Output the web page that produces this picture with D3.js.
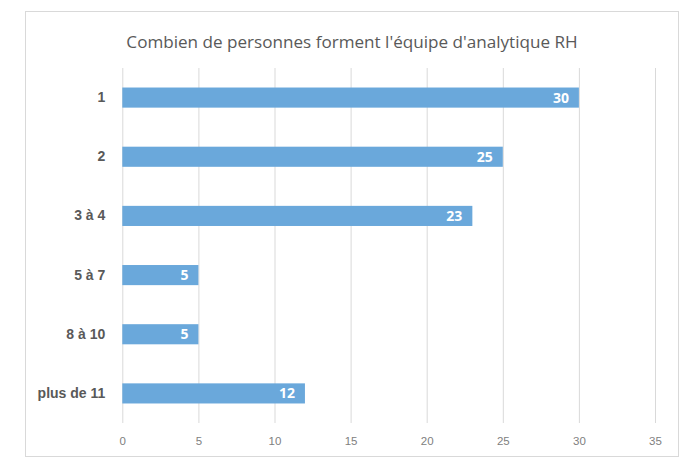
<!DOCTYPE html>
<html><head><meta charset="utf-8">
<script src="https://cdn.jsdelivr.net/npm/d3@7"></script>
<style>body{margin:0;background:#fff}svg{display:block}</style>
</head><body>
<script>
const categories = ["1","2","3 à 4","5 à 7","8 à 10","plus de 11"];
const values = [30,25,23,5,5,12];
const tickValues = [0,5,10,15,20,25,30,35];
const title = "Combien de personnes forment l'équipe d'analytique RH";

const W=700,H=467;
const svg=d3.select("body").append("svg").attr("width",W).attr("height",H)
  .style("font-family","'Open Sans', sans-serif");
svg.append("rect").attr("x",25.5).attr("y",11.5).attr("width",653).attr("height",445)
  .attr("fill","#fff").attr("stroke","#d9d9d9").attr("stroke-width",1);

const x=d3.scaleLinear().domain([0,35]).range([122.3,655]);
const y=d3.scaleBand().domain(categories).range([68,423]).paddingInner(0.66).paddingOuter(0.33);

svg.append("text").attr("x",352).attr("y",48).attr("text-anchor","middle")
  .attr("fill","#595959").style("font-size","17.1px").text(title);

const gx=svg.append("g").attr("transform","translate(0,423)")
  .call(d3.axisBottom(x).tickValues(tickValues).tickSize(-355).tickPadding(14));
gx.select(".domain").remove();
gx.selectAll(".tick line").attr("stroke","#d9d9d9");
gx.selectAll(".tick text").attr("fill","#808080").style("font-size","11.5px");

const gy=svg.append("g").attr("transform","translate(122.3,0)")
  .call(d3.axisLeft(y).tickSize(0).tickPadding(17));
gy.select(".domain").remove();
gy.selectAll(".tick text").attr("fill","#595959").style("font-size","14px").style("font-weight","bold");

svg.selectAll("rect.bar").data(values).join("rect").attr("class","bar")
  .attr("x",x(0)).attr("y",(d,i)=>y(categories[i])).attr("width",d=>x(d)-x(0))
  .attr("height",y.bandwidth()).attr("fill","#6aa8db");

svg.selectAll("text.val").data(values).join("text").attr("class","val")
  .attr("x",d=>x(d)-10).attr("y",(d,i)=>y(categories[i])+y.bandwidth()/2)
  .attr("dy","0.36em").attr("text-anchor","end").attr("fill","#fff")
  .style("font-size","14px").style("font-weight","bold").text(d=>d);
</script>
</body></html>
